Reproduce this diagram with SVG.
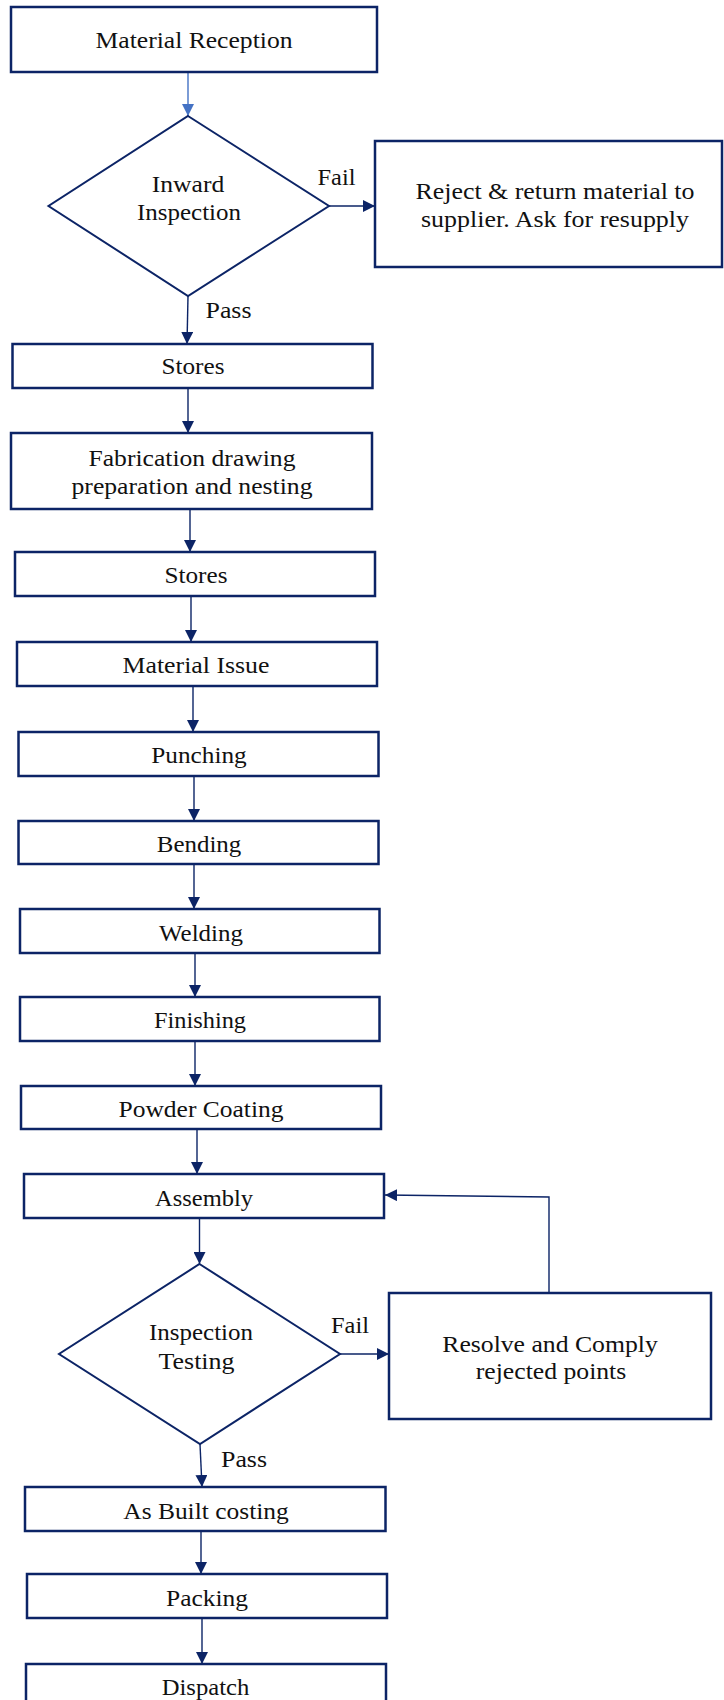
<svg xmlns="http://www.w3.org/2000/svg" width="724" height="1700" viewBox="0 0 724 1700">
<style>
.box{fill:#ffffff;stroke:#0c2466;stroke-width:2.5}
.dia{fill:#ffffff;stroke:#0c2466;stroke-width:2}
.t{font-family:"Liberation Serif","Times New Roman",serif;font-size:23px;fill:#111111;text-anchor:middle}
.c{fill:none;stroke:#0c2466;stroke-width:1.4}
.cl{fill:none;stroke:#4472c4;stroke-width:1.4}
</style>
<defs>
<marker id="ah" viewBox="0 0 12 12" refX="12" refY="6" markerWidth="12" markerHeight="12" markerUnits="userSpaceOnUse" orient="auto">
<path d="M0,0 L12,6 L0,12 z" fill="#0c2466"/>
</marker>
<marker id="ahl" viewBox="0 0 12 12" refX="12" refY="6" markerWidth="12" markerHeight="12" markerUnits="userSpaceOnUse" orient="auto">
<path d="M0,0 L12,6 L0,12 z" fill="#4472c4"/>
</marker>
</defs>
<rect width="724" height="1700" fill="#ffffff"/>
<g id="connectors">
<path class="cl" d="M188,72 V116" marker-end="url(#ahl)"/>
<path class="c" d="M329,206 H375" marker-end="url(#ah)"/>
<path class="c" d="M188,296 L187,344" marker-end="url(#ah)"/>
<path class="c" d="M188,388 V433" marker-end="url(#ah)"/>
<path class="c" d="M190,509 V552" marker-end="url(#ah)"/>
<path class="c" d="M191,596 V642" marker-end="url(#ah)"/>
<path class="c" d="M193,686 V732" marker-end="url(#ah)"/>
<path class="c" d="M194,776 V821" marker-end="url(#ah)"/>
<path class="c" d="M194,864 V909" marker-end="url(#ah)"/>
<path class="c" d="M195,953 V997" marker-end="url(#ah)"/>
<path class="c" d="M195,1041 V1086" marker-end="url(#ah)"/>
<path class="c" d="M197,1129 V1174" marker-end="url(#ah)"/>
<path class="c" d="M199.5,1218 V1264" marker-end="url(#ah)"/>
<path class="c" d="M340,1354 H389" marker-end="url(#ah)"/>
<path class="c" d="M549,1293 V1197 L385,1195" marker-end="url(#ah)"/>
<path class="c" d="M200,1444 L202,1487" marker-end="url(#ah)"/>
<path class="c" d="M201,1531 V1574" marker-end="url(#ah)"/>
<path class="c" d="M202,1618 V1664" marker-end="url(#ah)"/>
<text class="t" x="336.5" y="185" textLength="38" lengthAdjust="spacingAndGlyphs">Fail</text>
<text class="t" x="228.5" y="318" textLength="46" lengthAdjust="spacingAndGlyphs">Pass</text>
<text class="t" x="350" y="1333" textLength="38" lengthAdjust="spacingAndGlyphs">Fail</text>
<text class="t" x="244" y="1467" textLength="46" lengthAdjust="spacingAndGlyphs">Pass</text>
</g>
<g id="n-material-reception">
<rect class="box" x="11" y="7" width="366" height="65"/>
<text class="t" x="194" y="48" textLength="197" lengthAdjust="spacingAndGlyphs">Material Reception</text>
</g>
<g id="n-inward-inspection">
<polygon class="dia" points="188,116 329,206 188,296 48.5,206"/>
<text class="t" x="188" y="192" textLength="72.5" lengthAdjust="spacingAndGlyphs">Inward</text>
<text class="t" x="189" y="220" textLength="104" lengthAdjust="spacingAndGlyphs">Inspection</text>
</g>
<g id="n-reject">
<rect class="box" x="375" y="141" width="347" height="126"/>
<text class="t" x="555" y="199" textLength="279" lengthAdjust="spacingAndGlyphs">Reject &amp; return material to</text>
<text class="t" x="555" y="227" textLength="268" lengthAdjust="spacingAndGlyphs">supplier. Ask for resupply</text>
</g>
<g id="n-stores-1">
<rect class="box" x="12.5" y="344" width="360" height="44"/>
<text class="t" x="193" y="374" textLength="63" lengthAdjust="spacingAndGlyphs">Stores</text>
</g>
<g id="n-fabrication">
<rect class="box" x="11" y="433" width="361" height="76"/>
<text class="t" x="192" y="466" textLength="207" lengthAdjust="spacingAndGlyphs">Fabrication drawing</text>
<text class="t" x="192" y="494" textLength="241" lengthAdjust="spacingAndGlyphs">preparation and nesting</text>
</g>
<g id="n-stores-2">
<rect class="box" x="15" y="552" width="360" height="44"/>
<text class="t" x="196" y="583" textLength="63" lengthAdjust="spacingAndGlyphs">Stores</text>
</g>
<g id="n-material-issue">
<rect class="box" x="17" y="642" width="360" height="44"/>
<text class="t" x="196" y="673" textLength="147" lengthAdjust="spacingAndGlyphs">Material Issue</text>
</g>
<g id="n-punching">
<rect class="box" x="18.5" y="732" width="360" height="44"/>
<text class="t" x="199" y="763" textLength="95.5" lengthAdjust="spacingAndGlyphs">Punching</text>
</g>
<g id="n-bending">
<rect class="box" x="18.5" y="821" width="360" height="43"/>
<text class="t" x="199" y="852" textLength="84.5" lengthAdjust="spacingAndGlyphs">Bending</text>
</g>
<g id="n-welding">
<rect class="box" x="20" y="909" width="359.5" height="44"/>
<text class="t" x="201" y="941" textLength="84" lengthAdjust="spacingAndGlyphs">Welding</text>
</g>
<g id="n-finishing">
<rect class="box" x="20" y="997" width="359.5" height="44"/>
<text class="t" x="200" y="1028" textLength="92" lengthAdjust="spacingAndGlyphs">Finishing</text>
</g>
<g id="n-powder-coating">
<rect class="box" x="21" y="1086" width="360" height="43"/>
<text class="t" x="201" y="1117" textLength="165" lengthAdjust="spacingAndGlyphs">Powder Coating</text>
</g>
<g id="n-assembly">
<rect class="box" x="24" y="1174" width="360" height="44"/>
<text class="t" x="204" y="1206" textLength="98" lengthAdjust="spacingAndGlyphs">Assembly</text>
</g>
<g id="n-inspection-testing">
<polygon class="dia" points="199.5,1264 340,1354 200,1444 59,1354"/>
<text class="t" x="201" y="1340" textLength="104" lengthAdjust="spacingAndGlyphs">Inspection</text>
<text class="t" x="196.5" y="1369" textLength="76" lengthAdjust="spacingAndGlyphs">Testing</text>
</g>
<g id="n-resolve">
<rect class="box" x="389" y="1293" width="322" height="126"/>
<text class="t" x="550" y="1352" textLength="215.5" lengthAdjust="spacingAndGlyphs">Resolve and Comply</text>
<text class="t" x="551" y="1379" textLength="150.5" lengthAdjust="spacingAndGlyphs">rejected points</text>
</g>
<g id="n-as-built-costing">
<rect class="box" x="25" y="1487" width="360.5" height="44"/>
<text class="t" x="206" y="1519" textLength="165.5" lengthAdjust="spacingAndGlyphs">As Built costing</text>
</g>
<g id="n-packing">
<rect class="box" x="27" y="1574" width="360" height="44"/>
<text class="t" x="207" y="1606" textLength="82" lengthAdjust="spacingAndGlyphs">Packing</text>
</g>
<g id="n-dispatch">
<rect class="box" x="26" y="1664" width="360" height="60"/>
<text class="t" x="205.5" y="1695" textLength="87.5" lengthAdjust="spacingAndGlyphs">Dispatch</text>
</g>
</svg>
